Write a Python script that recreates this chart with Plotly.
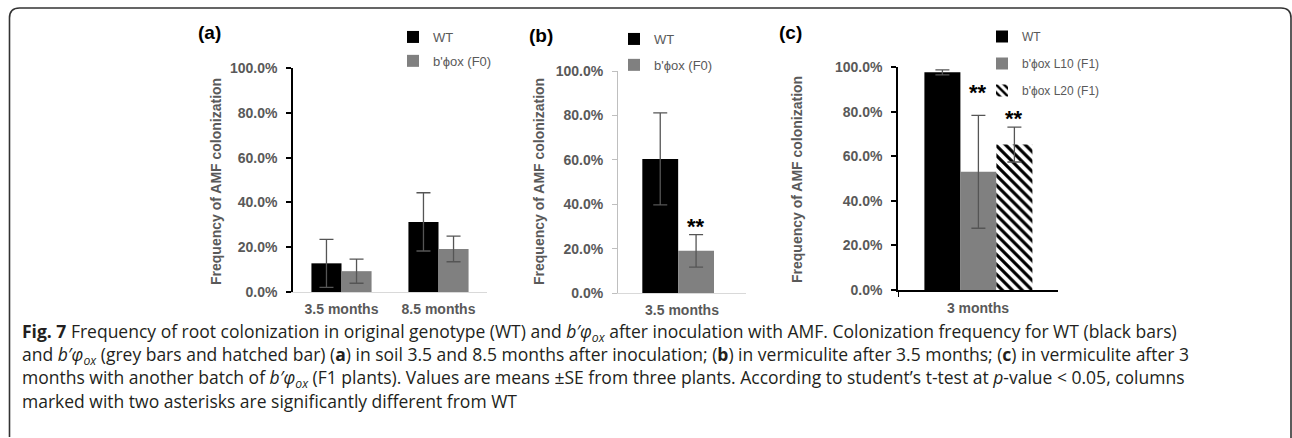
import plotly.graph_objects as go

W, H = 1292, 438

# ---------------- data ----------------
cats_a = ["3.5 months", "8.5 months"]
wt_a = [0.128, 0.313]
wt_a_err = [0.107, 0.130]
f0_a = [0.093, 0.192]
f0_a_err = [0.054, 0.057]

cats_b = ["3.5 months"]
wt_b = [0.604]
wt_b_err = [0.207]
f0_b = [0.190]
f0_b_err = [0.073]

cats_c = ["3 months"]
wt_c = [0.976]
wt_c_err = [0.011]
l10_c = [0.530]
l10_c_err = [0.253]
l20_c = [0.652]
l20_c_err = [0.078]

y_ticks = [0, 0.2, 0.4, 0.6, 0.8, 1.0]


def px(x):
    return x / W


def py(y):
    return 1 - y / H


GRAY_TXT = "#595959"
ERR_COL = "#555555"
BLACK = "#000000"
GREY = "#808080"

fig = go.Figure()


def err(vals):
    return dict(type="data", array=vals, visible=True, color=ERR_COL, thickness=1.3, width=7)


# panel a
fig.add_trace(go.Bar(x=cats_a, y=wt_a, error_y=err(wt_a_err), name="WT",
                     marker=dict(color=BLACK, line=dict(width=0)),
                     width=0.31, offset=-0.31, xaxis="x", yaxis="y",
                     legend="legend", legendgroup="a1"))
fig.add_trace(go.Bar(x=cats_a, y=f0_a, error_y=err(f0_a_err), name="b'ϕox (F0)",
                     marker=dict(color=GREY, line=dict(width=0)),
                     width=0.31, offset=0.0, xaxis="x", yaxis="y",
                     legend="legend", legendgroup="a2"))
# panel b
fig.add_trace(go.Bar(x=cats_b, y=wt_b, error_y=err(wt_b_err), name="WT",
                     marker=dict(color=BLACK, line=dict(width=0)),
                     width=0.28, offset=-0.31, xaxis="x2", yaxis="y2",
                     legend="legend2", legendgroup="b1"))
fig.add_trace(go.Bar(x=cats_b, y=f0_b, error_y=err(f0_b_err), name="b'ϕox (F0)",
                     marker=dict(color=GREY, line=dict(width=0)),
                     width=0.28, offset=-0.03, xaxis="x2", yaxis="y2",
                     legend="legend2", legendgroup="b2"))
# panel c
fig.add_trace(go.Bar(x=cats_c, y=wt_c, error_y=err(wt_c_err), name="WT",
                     marker=dict(color=BLACK, line=dict(width=0)),
                     width=0.225, offset=-0.335, xaxis="x3", yaxis="y3",
                     legend="legend3", legendgroup="c1"))
fig.add_trace(go.Bar(x=cats_c, y=l10_c, error_y=err(l10_c_err), name="b'ϕox L10 (F1)",
                     marker=dict(color=GREY, line=dict(width=0)),
                     width=0.225, offset=-0.11, xaxis="x3", yaxis="y3",
                     legend="legend3", legendgroup="c2"))
fig.add_trace(go.Bar(x=cats_c, y=l20_c, error_y=err(l20_c_err), name="b'ϕox L20 (F1)",
                     marker=dict(color=BLACK, line=dict(width=0),
                                 pattern=dict(shape="\\", fillmode="replace", fgcolor=BLACK,
                                              bgcolor="white", size=7, solidity=0.45)),
                     width=0.225, offset=0.115, xaxis="x3", yaxis="y3",
                     legend="legend3", legendgroup="c3"))

tickfont = dict(family="Liberation Sans, Arial", size=14, color=GRAY_TXT, weight="bold")


def yaxis(y0, y1, linecolor, lw, anchor):
    return dict(domain=[py(y0), py(y1)], range=[0, 1], tickvals=y_ticks, tickformat=".1%",
                showgrid=False, zeroline=False, showline=True, linecolor=linecolor,
                linewidth=lw, ticks="outside", ticklen=5, tickcolor=linecolor, tickwidth=lw,
                tickfont=tickfont, anchor=anchor, ticklabelstandoff=6, fixedrange=True,
                automargin=False)


def xaxis(x0, x1, rng, linecolor, lw, anchor, ticks=""):
    return dict(domain=[px(x0), px(x1)], range=rng, type="category", showgrid=False,
                zeroline=False, showline=True, linecolor=linecolor, linewidth=lw,
                ticks=ticks, tickson="boundaries", ticklen=5, tickcolor=linecolor,
                tickfont=tickfont, ticklabelstandoff=4, fixedrange=True, anchor=anchor,
                automargin=False)


ya = yaxis(292, 68, "#000000", 1.5, "x")
yb = yaxis(293, 71, "#bfbfbf", 1, "x2")
yc = yaxis(290, 67, "#000000", 1.5, "x3")

xa = xaxis(293, 487, [-0.5, 1.5], "#d9d9d9", 1, "y")
xb = xaxis(618, 746, [-0.5, 0.5], "#d9d9d9", 1, "y2")
xc = xaxis(898, 1058, [-0.5, 0.5], "#000000", 1.5, "y3", ticks="outside")

legfont = dict(family="Liberation Sans, Arial", size=13, color=GRAY_TXT)
legfont_c = dict(family="Liberation Sans, Arial", size=12, color=GRAY_TXT)


def leg(x, y, font, gap):
    return dict(x=px(x), y=py(y), xanchor="left", yanchor="top", font=font,
                bgcolor="rgba(0,0,0,0)", borderwidth=0, itemwidth=30,
                traceorder="grouped", tracegroupgap=gap, itemclick=False)


fig.update_layout(
    width=W, height=H, margin=dict(l=0, r=0, t=0, b=0, pad=0, autoexpand=False),
    paper_bgcolor="white", plot_bgcolor="rgba(0,0,0,0)",
    barmode="overlay",
    xaxis=xa, yaxis=ya, xaxis2=xb, yaxis2=yb, xaxis3=xc, yaxis3=yc,
    legend=leg(393, 22, legfont, 4),
    legend2=leg(614, 24, legfont, 6),
    legend3=leg(982, 22, legfont_c, 8),
    font=dict(family="Liberation Sans, Arial"),
)

ann = []
# panel labels
for lab, x, y in [("(a)", 196, 33), ("(b)", 527, 35), ("(c)", 777, 33)]:
    ann.append(dict(text=f"<b>{lab}</b>", x=px(x), y=py(y), xref="paper", yref="paper",
                    xanchor="left", yanchor="middle", showarrow=False,
                    font=dict(family="Liberation Sans, Arial", size=19, color="black")))
# y titles
for x, y in [(216, 181), (539, 182), (797, 180)]:
    ann.append(dict(text="<b>Frequency of AMF colonization</b>", x=px(x), y=py(y),
                    xref="paper", yref="paper", xanchor="center", yanchor="middle",
                    textangle=-90, showarrow=False,
                    font=dict(family="Liberation Sans, Arial", size=14, color=GRAY_TXT)))
# asterisks
star_font = dict(family="Liberation Sans, Arial", size=22, color="black")
ann.append(dict(text="<b>**</b>", x=0.11, y=f0_b[0] + f0_b_err[0], xref="x2", yref="y2",
                yanchor="bottom", showarrow=False, yshift=-6, font=star_font))
ann.append(dict(text="<b>**</b>", x=0.0025, y=l10_c[0] + l10_c_err[0], xref="x3", yref="y3",
                yanchor="bottom", showarrow=False, yshift=8, font=star_font))
ann.append(dict(text="<b>**</b>", x=0.2275, y=l20_c[0] + l20_c_err[0], xref="x3", yref="y3",
                yanchor="bottom", showarrow=False, yshift=-6, font=star_font))

# caption
bp = "<i>b′φ<sub>ox</sub></i>"
cap_lines = [
    f"<b>Fig. 7</b> Frequency of root colonization in original genotype (WT) and {bp} after inoculation with AMF. Colonization frequency for WT (black bars)",
    f"and {bp} (grey bars and hatched bar) (<b>a</b>) in soil 3.5 and 8.5 months after inoculation; (<b>b</b>) in vermiculite after 3.5 months; (<b>c</b>) in vermiculite after 3",
    f"months with another batch of {bp} (F1 plants). Values are means ±SE from three plants. According to student’s t-test at <i>p</i>-value &lt; 0.05, columns",
    "marked with two asterisks are significantly different from WT",
]
for i, line in enumerate(cap_lines):
    ann.append(dict(text=line, x=px(20), y=py(332 + 23 * i), xref="paper", yref="paper",
                    xanchor="left", yanchor="middle", showarrow=False, align="left",
                    font=dict(family="Open Sans", size=17.5, color="#231f20")))

fig.update_layout(annotations=ann)

# frame
x0, y0, x1, y1, r = 9.5, 8, 1291, 437, 10
path = (f"M {px(x0)},{py(y1)} L {px(x0)},{py(y0 + r)} Q {px(x0)},{py(y0)} {px(x0 + r)},{py(y0)} "
        f"L {px(x1 - r)},{py(y0)} Q {px(x1)},{py(y0)} {px(x1)},{py(y0 + r)} L {px(x1)},{py(H)}")
fig.add_shape(type="path", path=path, xref="paper", yref="paper",
              line=dict(color="#333333", width=1.6))

fig.write_html("out.html",
               post_script="document.body.style.margin='0';document.body.style.overflow='hidden';")
